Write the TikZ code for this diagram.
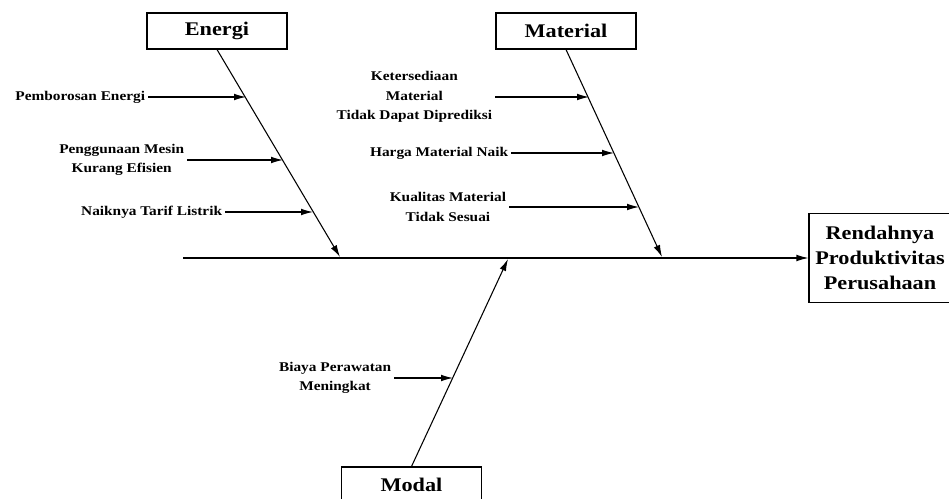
\documentclass[tikz,border=0pt]{standalone}
\usepackage{fontspec}
\setmainfont[FakeStretch=1.15]{Liberation Serif}
\usetikzlibrary{arrows.meta}

\begin{document}
\begin{tikzpicture}[x=0.75pt,y=-0.75pt]
        \tikzstyle{catbox}=[draw,line width=0.8pt,minimum width=105pt,minimum height=27pt,inner sep=0pt,font=\fontsize{14.5}{19}\selectfont\bfseries]
        \tikzstyle{cause}=[anchor=east,align=center,inner sep=2pt,font=\fontsize{10}{14.5}\selectfont\bfseries]
        \tikzstyle{bone}=[line width=0.8pt,-{Latex[length=9pt,width=5pt]}]
        \useasboundingbox (0,0) rectangle (949,499);

        \node[catbox] (energi) at (217,31) {Energi};
        \node[catbox] (material) at (566,31) {Material};
        \node[catbox] (modal) at (411.5,485) {Modal};
        \node[catbox,minimum width=106.5pt,minimum height=66.75pt,align=center] (effect) at (880,258) {Rendahnya\\Produktivitas\\Perusahaan};

        % spine and bones
        \coordinate (tail) at (183,258);
        \coordinate (etip) at (340,257);
        \coordinate (mtip) at (662,257);
        \coordinate (otip) at (508,259);
        \draw[bone] (tail) -- (tail -| effect.west);
        \draw[bone] (energi.south) -- (etip);
        \draw[bone] (material.south) -- (mtip);
        \draw[bone] (modal.north) -- (otip);

        \foreach \n/\x/\y/\hx/\txt in {
            boros/148/97/246/{Pemborosan Energi},
            mesin/187/160/283/{Penggunaan Mesin\\Kurang Efisien},
            tarif/225/212/313/{Naiknya Tarif Listrik},
            sedia/495/97/589/{Ketersediaan\\Material\\Tidak Dapat Diprediksi},
            harga/511/153/614/{Harga Material Naik},
            mutu/509/207/639/{Kualitas Material\\Tidak Sesuai},
            rawat/394/378/453/{Biaya Perawatan\\Meningkat}}{
          \node[cause] (\n) at (\x,\y) {\txt};
          \coordinate (\n-h) at (\hx,\y);
          \draw[bone] (\n.east) -- (\n-h);
        }
      \end{tikzpicture}
\end{document}
